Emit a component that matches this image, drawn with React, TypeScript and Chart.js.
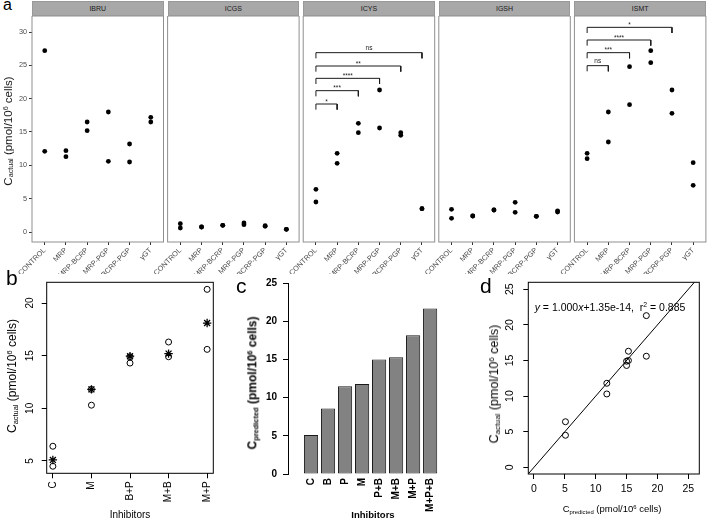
import React, { useEffect, useRef } from 'react';
import { Chart, registerables } from 'chart.js';
Chart.register(...registerables);

const FONT = '"Liberation Sans", Arial, Helvetica, sans-serif';

// ---------- Panel a data ----------
const categories = ['CONTROL', 'MRP', 'MRP-BCRP', 'MRP-PGP', 'BCRP-PGP', 'γGT'];
const facetNames = ['IBRU', 'ICGS', 'ICYS', 'IGSH', 'ISMT'];
const ibruRep1 = [27.2, 12.2, 16.5, 18.0, 13.2, 17.2];
const ibruRep2 = [12.1, 11.3, 15.2, 10.6, 10.5, 16.5];
const icgsRep1 = [1.25, 0.75, 1.0, 1.35, 0.95, 0.4];
const icgsRep2 = [0.6, 0.75, 1.0, 1.1, 0.85, 0.4];
const icysRep1 = [6.4, 11.8, 16.3, 21.3, 14.9, 3.5];
const icysRep2 = [4.5, 10.3, 14.9, 15.6, 14.5, 3.5];
const igshRep1 = [3.4, 2.4, 3.3, 4.45, 2.35, 3.15];
const igshRep2 = [2.05, 2.4, 3.3, 2.95, 2.35, 3.0];
const ismtRep1 = [11.8, 18.0, 24.8, 27.2, 21.3, 10.4];
const ismtRep2 = [11.0, 13.5, 19.1, 25.4, 17.8, 7.0];
const facetYTicks = [0, 5, 10, 15, 20, 25, 30];

const icysBracketTo = [2, 3, 4, 5, 6];
const icysBracketY = [19.2, 21.2, 23.05, 24.9, 26.9];
const icysBracketText = ['*', '***', '****', '**', 'ns'];
const ismtBracketTo = [2, 3, 4, 5];
const ismtBracketY = [24.95, 26.9, 28.8, 30.7];
const ismtBracketText = ['ns', '***', '****', '*'];

// ---------- Panel b data ----------
const bLabels = ['C', 'M', 'B+P', 'M+B', 'M+P'];
const bActualHigh = [6.4, 11.8, 14.9, 16.3, 21.3];
const bActualLow = [4.5, 10.3, 14.3, 14.9, 15.6];
const bPredicted = [5.1, 11.8, 14.95, 15.2, 18.1];
const bYTicks = [5, 10, 15, 20];

// ---------- Panel c data ----------
const cLabels = ['C', 'B', 'P', 'M', 'P+B', 'M+B', 'M+P', 'M+P+B'];
const cPredicted = [5.1, 8.6, 11.5, 11.8, 15.0, 15.3, 18.2, 21.7];
const cYTicks = [0, 5, 10, 15, 20, 25];

// ---------- Panel d data ----------
const dPredicted = [5.1, 5.1, 11.8, 11.8, 15.0, 15.0, 15.3, 15.3, 18.2, 18.2];
const dActual = [6.4, 4.5, 11.8, 10.3, 14.9, 14.3, 16.3, 15.0, 21.3, 15.6];
const dTicks = [0, 5, 10, 15, 20, 25];
const fitSlope = 1.0;
const fitIntercept = 1.35e-14;
const fitR2 = 0.885;

// ---------- layout helpers ----------
type Box = { left: number; top: number; width: number; height: number };
type Area = { l: number; t: number; r: number; b: number };

function padFor(box: Box, area: Area, yW: number, xH: number) {
  return {
    left: area.l - box.left - yW,
    top: area.t - box.top,
    right: box.left + box.width - area.r,
    bottom: box.top + box.height - area.b - xH,
  };
}
const fixWidth = (w: number) => (s: any) => {
  s.width = w;
  s.paddingTop = 0; s.paddingBottom = 0; s.paddingLeft = 0; s.paddingRight = 0;
};
const fixHeight = (h: number) => (s: any) => {
  s.height = h;
  s.paddingTop = 0; s.paddingBottom = 0; s.paddingLeft = 0; s.paddingRight = 0;
};
const setTicks = (vals: number[]) => (s: any) => {
  s.ticks = vals.map((v) => ({ value: v }));
};

const boxPlugin = (color: string, width: number) => ({
  id: 'boxFrame',
  afterDraw(chart: any) {
    const { ctx, chartArea: a } = chart;
    ctx.save();
    ctx.strokeStyle = color;
    ctx.lineWidth = width;
    ctx.strokeRect(a.left, a.top, a.right - a.left, a.bottom - a.top);
    ctx.restore();
  },
});

// R-style y tick labels (parallel to the axis), placed with the chart's own y scale
const rotatedYLabels = (offset: number, size: number) => ({
  id: 'rotYLabels',
  afterDraw(chart: any) {
    const s = chart.scales.y;
    const { ctx, chartArea } = chart;
    ctx.save();
    ctx.font = `${size}px ${FONT}`;
    ctx.fillStyle = '#000';
    ctx.textAlign = 'center';
    ctx.textBaseline = 'middle';
    s.ticks.forEach((t: any) => {
      const y = s.getPixelForValue(t.value);
      ctx.save();
      ctx.translate(chartArea.left - offset, y);
      ctx.rotate(-Math.PI / 2);
      ctx.fillText(String(t.value), 0, 0);
      ctx.restore();
    });
    ctx.restore();
  },
});

const bracketLabelPlugin = (tos: number[], ys: number[], texts: string[]) => ({
  id: 'bracketLabels',
  afterDatasetsDraw(chart: any) {
    const { ctx } = chart;
    const xs = chart.scales.x;
    const yS = chart.scales.y;
    ctx.save();
    ctx.font = `6.5px ${FONT}`;
    ctx.fillStyle = '#1a1a1a';
    ctx.textAlign = 'center';
    ctx.textBaseline = 'bottom';
    tos.forEach((to, i) => {
      const x = (xs.getPixelForValue(1) + xs.getPixelForValue(to)) / 2;
      const y = yS.getPixelForValue(ys[i]) - (texts[i] === 'ns' ? 1 : -1);
      ctx.fillText(texts[i], x, y);
    });
    ctx.restore();
  },
});

const FACET_LEFT = [32, 167.6, 303.2, 438.8, 574.4];
const FACET_W = 131.5;
const FACET_TOP = 16;
const FACET_BOTTOM = 242;
const TIP = 0.85;

const common = {
  type: 'scatter',
  options: {
    responsive: false,
    animation: false,
    events: [],
    plugins: { legend: { display: false }, tooltip: { enabled: false } },
  },
};

function facetConfig(idx: number) {
  const L = FACET_LEFT[idx];
  const first = idx === 0;
  const box: Box = { left: Math.floor(L) - 32, top: FACET_TOP, width: 170, height: 258 };
  const area: Area = { l: L, t: FACET_TOP, r: L + FACET_W, b: FACET_BOTTOM };
  const yW = first ? 32 : 0;
  const xH = box.top + box.height - FACET_BOTTOM;
  const reps = [
    [ibruRep1, ibruRep2],
    [icgsRep1, icgsRep2],
    [icysRep1, icysRep2],
    [igshRep1, igshRep2],
    [ismtRep1, ismtRep2],
  ][idx];
  const datasets: any[] = reps.map((arr) => ({
    data: arr.map((v, i) => ({ x: i + 1, y: v })),
    pointRadius: 2.4,
    pointBackgroundColor: '#000',
    pointBorderWidth: 0,
    showLine: false,
  }));
  const plugins: any[] = [boxPlugin('#8f8f8f', 1)];
  const addBrackets = (tos: number[], ys: number[], texts: string[]) => {
    tos.forEach((to, i) => {
      datasets.push({
        data: [
          { x: 1, y: ys[i] - TIP },
          { x: 1, y: ys[i] },
          { x: to, y: ys[i] },
          { x: to, y: ys[i] - TIP },
        ],
        showLine: true,
        borderColor: '#1a1a1a',
        borderWidth: 1,
        pointRadius: 0,
        fill: false,
        tension: 0,
      });
    });
    plugins.push(bracketLabelPlugin(tos, ys, texts));
  };
  if (facetNames[idx] === 'ICYS') addBrackets(icysBracketTo, icysBracketY, icysBracketText);
  if (facetNames[idx] === 'ISMT') addBrackets(ismtBracketTo, ismtBracketY, ismtBracketText);

  const yScale: any = {
    type: 'linear',
    min: -1.5,
    max: 32.4,
    afterBuildTicks: setTicks(facetYTicks),
    display: first,
    grid: { drawOnChartArea: false, drawTicks: true, tickLength: 3, color: '#333' },
    border: { display: false },
    ticks: { font: { family: FONT, size: 7.3 }, color: '#4d4d4d', padding: 2 },
  };
  if (first) yScale.afterFit = fixWidth(yW);
  return {
    box,
    config: {
      ...common,
      data: { datasets },
      options: {
        ...common.options,
        layout: { padding: padFor(box, area, yW, xH), autoPadding: false },
        scales: {
          x: {
            type: 'linear',
            min: 0.4,
            max: 6.6,
            afterBuildTicks: setTicks(categories.map((_, i) => i + 1)),
            afterFit: fixHeight(xH),
            grid: { drawOnChartArea: false, drawTicks: true, tickLength: 3, color: '#333' },
            border: { display: false },
            ticks: {
              autoSkip: false,
              minRotation: 45,
              maxRotation: 45,
              padding: 1,
              font: { family: FONT, size: 7.3 },
              color: '#4d4d4d',
              callback: (v: number) => categories[Math.round(v) - 1],
            },
          },
          y: yScale,
        },
      },
      plugins,
    },
  };
}

function bConfig() {
  const box: Box = { left: 0, top: 270, width: 226, height: 245 };
  const area: Area = { l: 46.7, t: 282.3, r: 213.3, b: 473.3 };
  const yW = 46.7;
  const xH = 515 - 473.3;
  return {
    box,
    config: {
      ...common,
      data: {
        datasets: [
          {
            data: [...bActualHigh, ...bActualLow].map((v, i) => ({ x: (i % bLabels.length) + 1, y: v })),
            pointRadius: 3,
            pointBorderWidth: 1,
            pointBorderColor: '#000',
            pointBackgroundColor: 'rgba(0,0,0,0)',
          },
          {
            data: bPredicted.map((v, i) => ({ x: i + 1, y: v })),
            pointStyle: 'star',
            pointRadius: 4.2,
            pointBorderWidth: 1.3,
            pointBorderColor: '#000',
            pointBackgroundColor: '#000',
          },
        ],
      },
      options: {
        ...common.options,
        layout: { padding: padFor(box, area, yW, xH), autoPadding: false },
        scales: {
          x: {
            type: 'linear',
            min: 0.84,
            max: 5.16,
            afterBuildTicks: setTicks(bLabels.map((_, i) => i + 1)),
            afterFit: fixHeight(xH),
            grid: { drawOnChartArea: false, drawTicks: true, tickLength: 5, color: '#000' },
            border: { display: false },
            ticks: {
              autoSkip: false,
              minRotation: 90,
              maxRotation: 90,
              padding: 3,
              font: { family: FONT, size: 10 },
              color: '#000',
              callback: (v: number) => bLabels[Math.round(v) - 1],
            },
          },
          y: {
            type: 'linear',
            min: 3.83,
            max: 21.97,
            afterBuildTicks: setTicks(bYTicks),
            afterFit: fixWidth(yW),
            grid: { drawOnChartArea: false, drawTicks: true, tickLength: 5, color: '#000' },
            border: { display: false },
            ticks: { display: false },
          },
        },
      },
      plugins: [boxPlugin('#000', 1), rotatedYLabels(16, 10)],
    },
  };
}

function cConfig() {
  const box: Box = { left: 230, top: 270, width: 232, height: 245 };
  const area: Area = { l: 288, t: 283.3, r: 456, b: 474 };
  const yW = 288 - 230;
  const xH = 515 - 474;
  const centers = cLabels.map((_, i) => 0.7 + 1.2 * i);
  return {
    box,
    config: {
      type: 'bar',
      data: {
        datasets: [
          {
            data: cPredicted.map((v, i) => ({ x: centers[i], y: v })),
            backgroundColor: '#828282',
            borderColor: '#1a1a1a',
            borderWidth: 1,
            borderSkipped: false,
            categoryPercentage: 1 / 1.2,
            barPercentage: 1,
          },
        ],
      },
      options: {
        ...common.options,
        layout: { padding: padFor(box, area, yW, xH), autoPadding: false },
        scales: {
          x: {
            type: 'linear',
            min: -0.184,
            max: 10.184,
            afterBuildTicks: setTicks(centers),
            afterFit: fixHeight(xH),
            grid: { display: false, drawTicks: false },
            border: { display: false },
            ticks: {
              autoSkip: false,
              minRotation: 90,
              maxRotation: 90,
              padding: 4,
              font: { family: FONT, size: 10, weight: 'bold' },
              color: '#000',
              callback: (v: number) => cLabels[Math.round((v - 0.7) / 1.2)],
            },
          },
          y: {
            type: 'linear',
            min: 0,
            max: 25,
            afterBuildTicks: setTicks(cYTicks),
            afterFit: fixWidth(yW),
            grid: { drawOnChartArea: false, drawTicks: true, tickLength: 5, color: '#000' },
            border: { display: true, color: '#000', width: 1 },
            ticks: {
              padding: 6,
              font: { family: FONT, size: 10, weight: 'bold' },
              color: '#000',
            },
          },
        },
      },
    },
  };
}

function dConfig() {
  const box: Box = { left: 470, top: 270, width: 238, height: 249 };
  const area: Area = { l: 528.3, t: 282.3, r: 699.3, b: 474 };
  const yW = 528.3 - 470;
  const xH = 519 - 474;
  const xMin = -0.92, xMax = 26.78, yMin = -0.94, yMax = 25.98;
  return {
    box,
    config: {
      ...common,
      data: {
        datasets: [
          {
            data: [xMin, xMax].map((x) => ({ x, y: fitSlope * x + fitIntercept })),
            showLine: true,
            borderColor: '#000',
            borderWidth: 1,
            pointRadius: 0,
            fill: false,
          },
          {
            data: dPredicted.map((x, i) => ({ x, y: dActual[i] })),
            pointRadius: 3,
            pointBorderWidth: 1,
            pointBorderColor: '#000',
            pointBackgroundColor: 'rgba(255,255,255,0)',
          },
        ],
      },
      options: {
        ...common.options,
        layout: { padding: padFor(box, area, yW, xH), autoPadding: false },
        scales: {
          x: {
            type: 'linear',
            min: xMin,
            max: xMax,
            afterBuildTicks: setTicks(dTicks),
            afterFit: fixHeight(xH),
            grid: { drawOnChartArea: false, drawTicks: true, tickLength: 5, color: '#000' },
            border: { display: false },
            ticks: { padding: 4, font: { family: FONT, size: 10.5 }, color: '#000' },
          },
          y: {
            type: 'linear',
            min: yMin,
            max: yMax,
            afterBuildTicks: setTicks(dTicks),
            afterFit: fixWidth(yW),
            grid: { drawOnChartArea: false, drawTicks: true, tickLength: 5, color: '#000' },
            border: { display: false },
            ticks: { display: false },
          },
        },
      },
      plugins: [boxPlugin('#000', 1), rotatedYLabels(18, 10.5)],
    },
  };
}

function ChartCanvas({ make }: { make: () => { box: Box; config: any } }) {
  const ref = useRef<HTMLCanvasElement>(null);
  const { box } = make();
  useEffect(() => {
    const { config } = make();
    const chart = new Chart(ref.current as HTMLCanvasElement, config);
    return () => chart.destroy();
  }, []);
  return (
    <canvas
      ref={ref}
      width={box.width}
      height={box.height}
      style={{ position: 'absolute', left: box.left, top: box.top, width: box.width, height: box.height }}
    />
  );
}

function Title({ x, y, size, rotate, bold, children, color = '#000' }: any) {
  return (
    <div
      style={{
        position: 'absolute',
        left: x,
        top: y,
        transform: `translate(-50%, -50%)${rotate ? ' rotate(-90deg)' : ''}`,
        whiteSpace: 'pre',
        fontFamily: FONT,
        fontSize: size,
        fontWeight: bold ? 'bold' : 'normal',
        lineHeight: 1,
        color,
      }}
    >
      {children}
    </div>
  );
}

function CLabel({ sub }: { sub: string }) {
  return (
    <span>
      C<sub style={{ fontSize: '0.62em', verticalAlign: '-0.25em' }}>{sub}</sub> (pmol/10
      <sup style={{ fontSize: '0.62em', verticalAlign: '0.55em' }}>6</sup> cells)
    </span>
  );
}

function Letter({ x, baseline, size, children }: any) {
  return (
    <div
      style={{
        position: 'absolute',
        left: x,
        top: baseline - 0.846 * size,
        fontFamily: FONT,
        fontSize: size,
        lineHeight: 1,
        color: '#000',
      }}
    >
      {children}
    </div>
  );
}

export default function App() {
  useEffect(() => {
    document.body.style.margin = '0';
  }, []);
  return (
    <div style={{ position: 'absolute', left: 0, top: 0, width: 708, height: 519, background: '#fff', overflow: 'hidden' }}>
      {facetNames.map((name, i) => (
        <div
          key={name}
          style={{
            position: 'absolute',
            left: FACET_LEFT[i],
            top: 1,
            width: FACET_W,
            height: 15,
            boxSizing: 'border-box',
            background: '#a8a8a8',
            border: '1px solid #999',
            fontFamily: FONT,
            fontSize: 7,
            lineHeight: '13px',
            textAlign: 'center',
            color: '#1a1a1a',
          }}
        >
          {name}
        </div>
      ))}
      {facetNames.map((name, i) => (
        <ChartCanvas key={'c' + name} make={() => facetConfig(i)} />
      ))}
      <ChartCanvas make={bConfig} />
      <ChartCanvas make={cConfig} />
      <ChartCanvas make={dConfig} />

      <Letter x={3} baseline={11} size={16}>a</Letter>
      <Letter x={6} baseline={285} size={21}>b</Letter>
      <Letter x={236} baseline={293} size={21}>c</Letter>
      <Letter x={480} baseline={293} size={21}>d</Letter>

      <Title x={9} y={131} size={11.5} rotate color="#1a1a1a">
        <CLabel sub="actual" />
      </Title>
      <Title x={13} y={376} size={12} rotate>
        <CLabel sub="actual" />
      </Title>
      <Title x={130} y={515} size={10}>Inhibitors</Title>
      <Title x={253} y={383} size={12} rotate bold>
        <CLabel sub="predicted" />
      </Title>
      <Title x={373} y={515} size={9.5} bold>Inhibitors</Title>
      <Title x={495} y={384} size={12.5} rotate>
        <CLabel sub="actual" />
      </Title>
      <Title x={612} y={510} size={9.5}>
        <CLabel sub="predicted" />
      </Title>
      <Title x={610} y={307} size={10.5}>
        <i>y</i>
        {` = ${fitSlope.toFixed(3)}`}
        <i>x</i>
        {`+${fitIntercept.toExponential(2)},  r`}
        <sup style={{ fontSize: '0.65em', verticalAlign: '0.6em' }}>2</sup>
        {` = ${fitR2.toFixed(3)}`}
      </Title>
    </div>
  );
}
